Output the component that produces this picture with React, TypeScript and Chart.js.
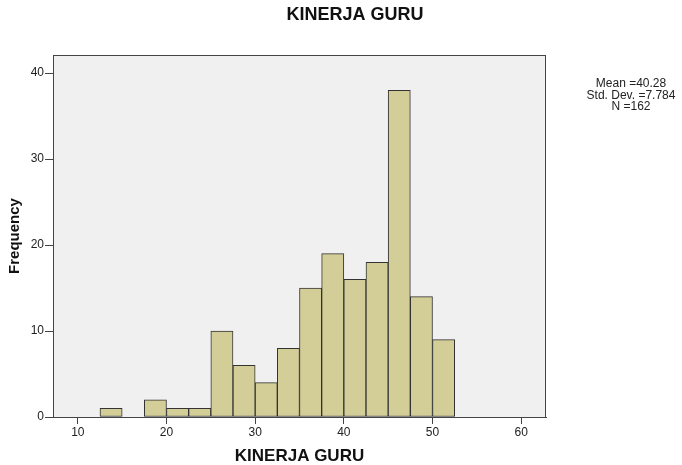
import React, { useEffect, useRef } from "react";
import { Chart, registerables } from "chart.js";

Chart.register(...registerables);

const binCenters = [13.75, 16.25, 18.75, 21.25, 23.75, 26.25, 28.75, 31.25, 33.75, 36.25, 38.75, 41.25, 43.75, 46.25, 48.75, 51.25];
const frequencies = [1, 0, 2, 1, 1, 10, 6, 4, 8, 15, 19, 16, 18, 38, 14, 9];
const xTicks = [10, 20, 30, 40, 50, 60];
const yTicks = [0, 10, 20, 30, 40];
const chartTitle = "KINERJA GURU";
const xTitle = "KINERJA GURU";
const yTitle = "Frequency";
const statsLines = ["Mean =40.28", "Std. Dev. =7.784", "N =162"];

const FONT = "Arial, 'Liberation Sans', sans-serif";

export default function App() {
  const ref = useRef<HTMLCanvasElement | null>(null);
  useEffect(() => {
    if (!ref.current) return;
    const decor = {
      id: "decor",
      beforeDraw(chart: any) {
        const { ctx, chartArea: a } = chart;
        ctx.save();
        ctx.fillStyle = "#ffffff";
        ctx.fillRect(0, 0, chart.width, chart.height);
        ctx.fillStyle = "#f0f0f0";
        ctx.fillRect(a.left, a.top, a.right - a.left, a.bottom - a.top);
        ctx.restore();
      },
      afterDraw(chart: any) {
        const { ctx, chartArea: a } = chart;
        ctx.save();
        ctx.strokeStyle = "#444";
        ctx.lineWidth = 1;
        ctx.strokeRect(a.left + 0.5, a.top + 0.5, a.right - a.left - 1, a.bottom - a.top);
        ctx.fillStyle = "#111";
        ctx.textAlign = "center";
        ctx.textBaseline = "alphabetic";
        ctx.font = `bold 18px ${FONT}`;
        ctx.fillText(chartTitle, 355, 20);
        ctx.font = `12px ${FONT}`;
        ctx.fillStyle = "#222";
        statsLines.forEach((t, i) => ctx.fillText(t, 631, 87 + i * 11.5));
        ctx.restore();
      },
    };
    const chart = new Chart(ref.current, {
      type: "bar",
      data: {
        datasets: [
          {
            data: binCenters.map((x, i) => ({ x, y: frequencies[i] === 0 ? null : frequencies[i] })) as any,
            backgroundColor: "#d3ce97",
            borderColor: "#333",
            borderWidth: 1,
            borderSkipped: false,
            barPercentage: 1,
            categoryPercentage: 1,
          },
        ],
      },
      options: {
        animation: false,
        responsive: true,
        maintainAspectRatio: false,
        layout: { padding: { top: 55, right: 136, bottom: 0, left: 0 } },
        plugins: { legend: { display: false }, tooltip: { enabled: false }, title: { display: false } },
        scales: {
          x: {
            type: "linear",
            offset: false,
            min: 7.2,
            max: 62.8,
            afterFit(s: any) { s.height = 48; },
            afterBuildTicks(s: any) { s.ticks = xTicks.map((v) => ({ value: v })); },
            grid: { offset: false, drawOnChartArea: false, drawTicks: true, tickLength: 7, color: "#444" },
            border: { display: true, color: "#444" },
            ticks: { font: { family: FONT, size: 12 }, color: "#222", padding: 1, maxRotation: 0 },
            title: { display: true, text: xTitle, font: { family: FONT, size: 17, weight: "bold", lineHeight: 1 }, color: "#111", padding: { top: 0, bottom: 0 } },
          },
          y: {
            min: 0,
            max: 42.1,
            afterFit(s: any) { s.width = 53; },
            afterBuildTicks(s: any) { s.ticks = yTicks.map((v) => ({ value: v })); },
            grid: { drawOnChartArea: false, drawTicks: true, tickLength: 8, color: "#444" },
            border: { display: true, color: "#444" },
            ticks: { font: { family: FONT, size: 12 }, color: "#222", padding: 1 },
            title: { display: true, text: yTitle, font: { family: FONT, size: 15, weight: "bold", lineHeight: 1.2 }, color: "#111", padding: { top: 6, bottom: 0 } },
          },
        },
      },
      plugins: [decor],
    });
    return () => chart.destroy();
  }, []);
  return (
    <div style={{ position: "fixed", left: 0, top: 0, width: 682, height: 465 }}>
      <canvas ref={ref} />
    </div>
  );
}
